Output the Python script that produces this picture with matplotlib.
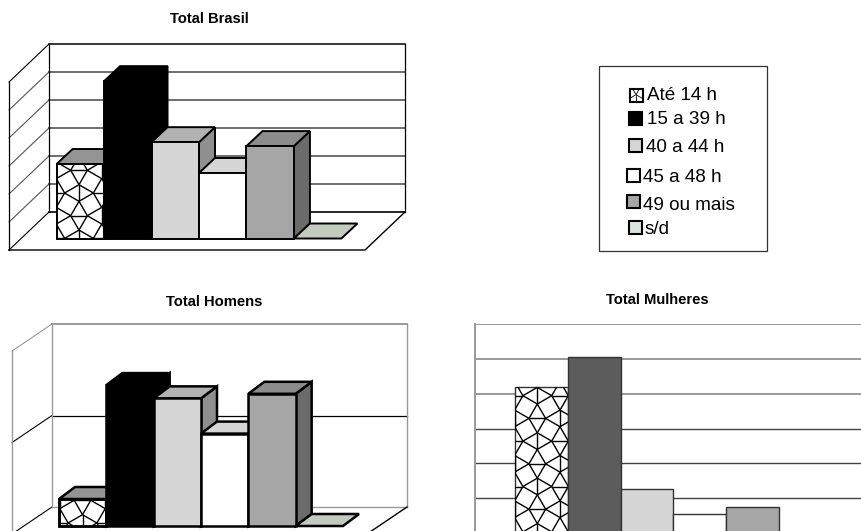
import matplotlib
matplotlib.use('Agg')
import matplotlib.pyplot as plt
from matplotlib.collections import LineCollection
from matplotlib.patches import Polygon, Rectangle
from matplotlib.transforms import Affine2D

#------------------------------------DATA----------------------------------------#

horas = ['Até 14 h', '15 a 39 h', '40 a 44 h', '45 a 48 h', '49 ou mais', 's/d']
total_brasil = [13.3, 28.1, 17.2, 11.7, 16.5, 0]
total_homens = [5.9, 30.8, 27.9, 20.2, 28.9, 0]
total_mulheres = [21.0, 25.3, 6.3, 2.7, 3.7, 0]

#front, top and side colour of each series (None = hatched front)
front_cols = [None, '#000000', '#d6d6d6', '#ffffff', '#a6a6a6', '#c3cbbf']
top_cols = ['#949494', '#000000', '#b2b2b2', '#d6d6d6', '#8c8c8c', '#c3cbbf']
side_cols = ['#6b6b6b', '#000000', '#8f8f8f', '#a0a0a0', '#6b6b6b', '#c3cbbf']
flat_cols = [None, '#5c5c5c', '#d6d6d6', '#ffffff', '#a6a6a6', '#c3cbbf']
swatch_cols = [None, '#000000', '#d6d6d6', '#ffffff', '#a6a6a6', '#dbe5d9']

#legend layout: swatch left, swatch top, text left, text centre
leg_swatch_x = [630, 629, 629, 627, 627.5, 629]
leg_swatch_y = [89, 112, 139, 169, 195, 221]
leg_text_x = [647, 647.5, 646, 643.5, 643.5, 644.5]
leg_text_y = [96, 119, 147, 177, 205, 230]

W, H = 862, 531
FONT = 'Liberation Sans'

#------------------------------------HELPERS----------------------------------------#

fig = plt.figure(figsize=(W / 100, H / 100), dpi=100)
px = Affine2D().scale(1, -1).translate(0, H)  #image pixels, y going down


def make_axes(left, right, baseline, height, ymax):
    ax = fig.add_axes([left / W, (H - baseline) / H, (right - left) / W, height / H])
    ax.set_xlim(-0.75, 6.75)
    ax.set_ylim(0, ymax)
    ax.axis('off')
    return ax


def tile_hatch(patch, ox, oy, ax, lw=1.0, a=22.7):
    #squares and triangles: short strokes on a checkerboard, each end joined to the next strokes
    h = 0.366
    segs = []
    for i in range(-2, 3):
        for j in range(-8, 9):
            cx, cy = ox + i * a, oy + j * a
            if (i + j) % 2 == 0:
                ends = [(cx, cy - h * a), (cx, cy + h * a)]
                #vertical stroke: its ends are the tips of the triangles above and below
                for e, s in zip(ends, (-1, 1)):
                    segs.append([e, (cx - h * a, cy + s * a)])
                    segs.append([e, (cx + h * a, cy + s * a)])
            else:
                ends = [(cx - h * a, cy), (cx + h * a, cy)]
                for e, s in zip(ends, (-1, 1)):
                    segs.append([e, (cx + s * a, cy - h * a)])
                    segs.append([e, (cx + s * a, cy + h * a)])
            segs.append(ends)
    lc = LineCollection(segs, colors='black', linewidths=lw, transform=px, zorder=patch.get_zorder() + 0.1)
    ax.add_collection(lc, autolim=False)
    lc.set_clip_path(patch)


def chart_3d(values, left, right, baseline, height, ymax, step, front, back, depth, grid_cols, grid_lw,
             wall_col, wall_lw, edge_lw, tile):
    ax = make_axes(left, right, baseline, height, ymax)
    ux = (right - left) / 7.5
    uy = height / ymax
    x0, x1 = -0.75, 6.75

    fx, fy = front[0] / ux, -front[1] / uy
    bx, by = back[0] / ux, -back[1] / uy
    dx, dy = depth[0] / ux, -depth[1] / uy

    #walls and floor
    ticks = [step * k for k in range(int(ymax / step) + 1)]
    for k, t in enumerate(ticks):
        col, lw = grid_cols[k], grid_lw[k]
        ax.plot([x0 + bx, x1 + bx], [t + by, t + by], color=col, lw=lw, clip_on=False, zorder=1)
        ax.plot([x0 + fx, x0 + bx], [t + fy, t + by], color=col if k else 'black', lw=0.8, clip_on=False, zorder=1)
    ax.plot([x0 + fx, x0 + fx], [fy, ymax + fy], color=wall_col, lw=wall_lw, clip_on=False, zorder=1)
    ax.plot([x0 + bx, x0 + bx], [by, ymax + by], color=wall_col, lw=wall_lw, clip_on=False, zorder=1)
    ax.plot([x1 + bx, x1 + bx], [by, ymax + by], color=wall_col, lw=wall_lw, clip_on=False, zorder=1)
    ax.plot([x0 + fx, x1 + fx, x1 + bx], [fy, fy, by], color='black', lw=1.0, clip_on=False, zorder=1)

    #bars, left to right so each one covers the side of the previous
    for i, v in enumerate(values):
        z = 2 + i
        edge = dict(edgecolor='black', linewidth=edge_lw, joinstyle='miter', clip_on=False)
        if v > 0:
            side = [(i + 1, 0), (i + 1 + dx, dy), (i + 1 + dx, v + dy), (i + 1, v)]
            ax.add_patch(Polygon(side, facecolor=side_cols[i], zorder=z, **edge))
        top = [(i, v), (i + dx, v + dy), (i + 1 + dx, v + dy), (i + 1, v)]
        ax.add_patch(Polygon(top, facecolor=top_cols[i], zorder=z, **edge))
        if v > 0:
            col = front_cols[i] if front_cols[i] else 'white'
            bar = ax.bar(i, v, width=1, align='edge', color=col, zorder=z + 0.2, **edge)[0]
            if front_cols[i] is None:
                tile_hatch(bar, tile[0], tile[1], ax)
                ax.add_patch(Rectangle((i, 0), 1, v, fill=False, zorder=z + 0.5, **edge))
    return ax


#------------------------------------TOTAL BRASIL----------------------------------------#

chart_3d(total_brasil, 21, 377, 238.5, 168, 30, 5, (-12, 11.5), (28, -26.5), (16, -15),
         ['black', '#555555', '#555555', '#555555', '#555555', '#555555', 'black'],
         [1.2, 1.2, 1.2, 1.2, 1.2, 1.2, 1.1], 'black', 0.9, 1.4, (79, 193))

#------------------------------------TOTAL HOMENS----------------------------------------#

chart_3d(total_homens, 23.5, 378.5, 526, 183, 40, 20, (-11.5, 8), (28.5, -19), (16, -12),
         ['#999999', 'black', '#999999'], [1.0, 0.9, 1.4], '#999999', 1.0, 1.8, (82.5, 523))

#------------------------------------TOTAL MULHERES----------------------------------------#

ax = make_axes(475, 872, 533, 209, 30)
m_grid_cols = ['#444444', '#444444', '#444444', '#444444', '#999999', '#999999', '#999999']
for k, t in enumerate(range(0, 31, 5)):
    ax.axhline(t, color=m_grid_cols[k], lw=1.0 if k < 4 else 1.4, zorder=1)
ax.plot([-0.75, -0.75], [0, 30], color='#999999', lw=1.4, clip_on=False, zorder=1)
for i, v in enumerate(total_mulheres):
    if v > 0:
        col = flat_cols[i] if flat_cols[i] else 'white'
        bar = ax.bar(i, v, width=1, align='edge', color=col, edgecolor='#333333', linewidth=1.0, zorder=2 + i)[0]
        if flat_cols[i] is None:
            tile_hatch(bar, 537.3, 395.7, ax)

#------------------------------------LEGEND----------------------------------------#

leg = fig.add_axes([0, 0, 1, 1], zorder=20)
leg.set_xlim(0, W)
leg.set_ylim(H, 0)
leg.axis('off')
leg.add_patch(Rectangle((599, 66), 168.5, 185, facecolor='white', edgecolor='#333333', linewidth=0.9))
for i, lab in enumerate(horas):
    col = swatch_cols[i] if swatch_cols[i] else 'white'
    sw = Rectangle((leg_swatch_x[i], leg_swatch_y[i]), 13, 13, facecolor=col, edgecolor='black', linewidth=1.5, zorder=3)
    leg.add_patch(sw)
    if swatch_cols[i] is None:
        tile_hatch(sw, leg_swatch_x[i] + 6, leg_swatch_y[i] + 14, leg, lw=0.6)
    leg.text(leg_text_x[i], leg_text_y[i], lab, family=FONT, fontsize=13.6, va='center', ha='left', color='black')

#------------------------------------TITLES----------------------------------------#

leg.text(209, 19, 'Total Brasil', family=FONT, fontsize=10.6, fontweight='bold', ha='center', va='center')
leg.text(214, 302, 'Total Homens', family=FONT, fontsize=10.6, fontweight='bold', ha='center', va='center')
leg.text(657, 300, 'Total Mulheres', family=FONT, fontsize=10.6, fontweight='bold', ha='center', va='center')

fig.savefig('out.png', dpi=100)
